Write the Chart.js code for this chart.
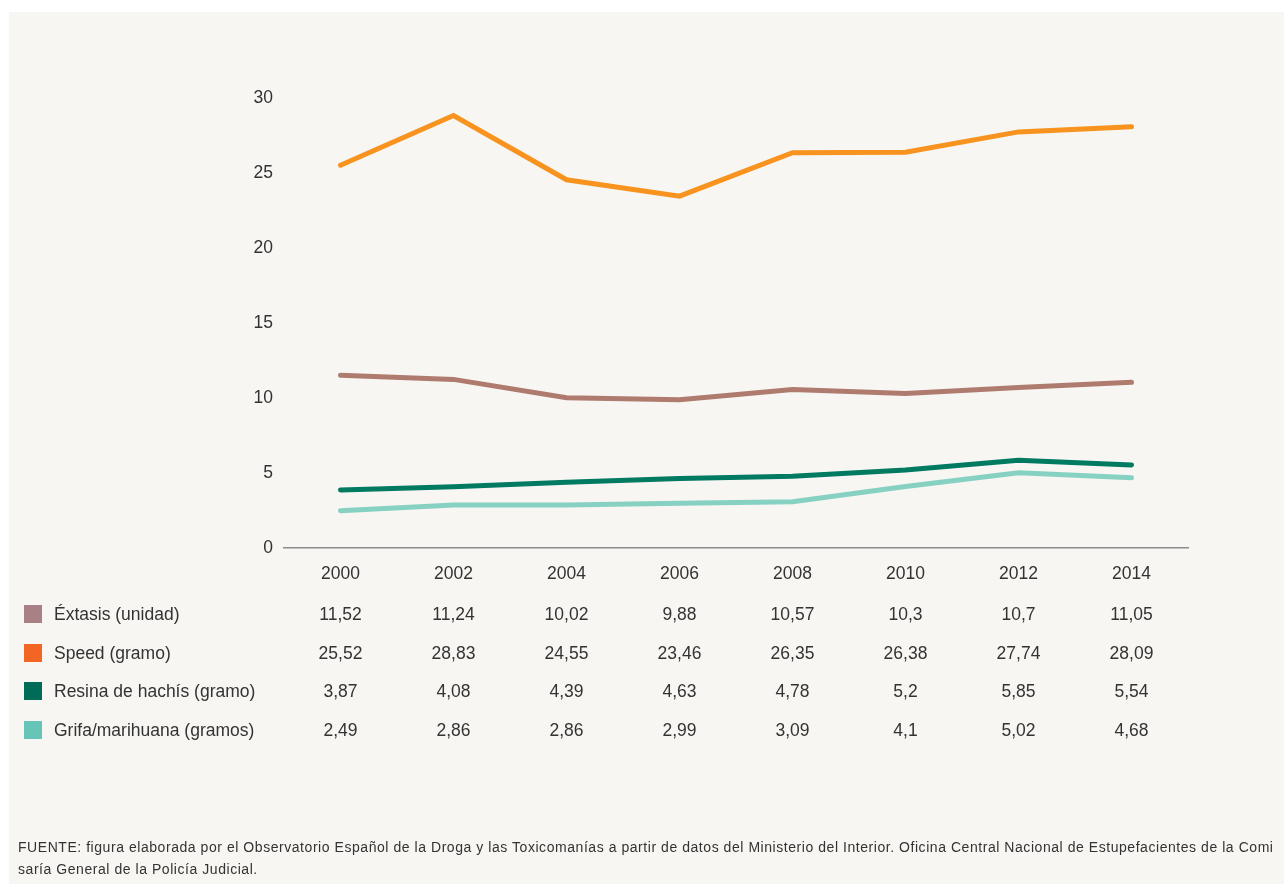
<!DOCTYPE html>
<html>
<head>
<meta charset="utf-8">
<script src="https://cdn.jsdelivr.net/npm/chart.js@4"></script>
<style>
    html, body { margin: 0; padding: 0; background: #ffffff; }
    #wrap { position: relative; width: 1284px; height: 884px; overflow: hidden; }
    #grafica { position: absolute; left: 0; top: 0; }
    #fuente {
        position: absolute; left: 18px; top: 836px; right: 0;
        font-family: "Liberation Sans", Arial, sans-serif; font-size: 14px;
        letter-spacing: 0.55px; line-height: 22px; color: #333; white-space: nowrap;
    }
</style>
</head>
<body>
<div id="wrap">
    <canvas id="grafica" width="1284" height="884"></canvas>
    <div id="fuente">FUENTE: figura elaborada por el Observatorio Español de la Droga y las Toxicomanías a partir de datos del Ministerio del Interior. Oficina Central Nacional de Estupefacientes de la Comi<br>saría General de la Policía Judicial.</div>
</div>
<script>
// Datos
const anios = ['2000', '2002', '2004', '2006', '2008', '2010', '2012', '2014'];
const extasis = [11.52, 11.24, 10.02, 9.88, 10.57, 10.3, 10.7, 11.05];
const speed = [25.52, 28.83, 24.55, 23.46, 26.35, 26.38, 27.74, 28.09];
const resina = [3.87, 4.08, 4.39, 4.63, 4.78, 5.2, 5.85, 5.54];
const grifa = [2.49, 2.86, 2.86, 2.99, 3.09, 4.1, 5.02, 4.68];
const etiquetasY = [0, 5, 10, 15, 20, 25, 30];

const FUENTE = '"Liberation Sans", Arial, sans-serif';

// Fondo del panel
const fondoPlugin = {
    id: 'fondo',
    beforeDraw: (chart) => {
        const ctx = chart.ctx;
        ctx.save();
        ctx.fillStyle = '#f7f6f2';
        ctx.fillRect(9, 12, chart.width - 9, chart.height - 12);
        ctx.restore();
    }
};

// Tabla de valores con leyenda debajo del eje
const tablaPlugin = {
    id: 'tabla',
    afterDraw: (chart) => {
        const ctx = chart.ctx;
        const x = chart.scales.x;
        const filaY = [615, 654, 692, 731];
        ctx.save();
        ctx.font = '17.5px ' + FUENTE;
        ctx.textBaseline = 'middle';
        chart.data.datasets.forEach((ds, i) => {
            const y = filaY[i];
            ctx.fillStyle = ds.swatch;
            ctx.fillRect(24, y - 10, 18, 18);
            ctx.fillStyle = '#333';
            ctx.textAlign = 'left';
            ctx.fillText(ds.label, 54, y);
            ctx.textAlign = 'center';
            ds.data.forEach((v, j) => {
                ctx.fillText(String(v).replace('.', ','), x.getPixelForValue(j), y);
            });
        });
        ctx.restore();
    }
};

document.addEventListener('DOMContentLoaded', function() {
    const ctx = document.getElementById('grafica').getContext('2d');
    const estilo = {
        borderWidth: 5,
        borderCapStyle: 'round',
        pointRadius: 0,
        pointHoverRadius: 0,
        tension: 0,
        fill: false
    };
    new Chart(ctx, {
        type: 'line',
        data: {
            labels: anios,
            datasets: [
                Object.assign({ label: 'Éxtasis (unidad)', data: extasis, borderColor: '#b07b6f', swatch: '#a98085' }, estilo),
                Object.assign({ label: 'Speed (gramo)', data: speed, borderColor: '#f7931e', swatch: '#f26522' }, estilo),
                Object.assign({ label: 'Resina de hachís (gramo)', data: resina, borderColor: '#007a60', swatch: '#006b56' }, estilo),
                Object.assign({ label: 'Grifa/marihuana (gramos)', data: grifa, borderColor: '#86d1c2', swatch: '#67c5b8' }, estilo)
            ]
        },
        options: {
            responsive: false,
            animation: false,
            layout: { padding: { top: 98, right: 96, left: 0, bottom: 0 } },
            plugins: {
                legend: { display: false },
                tooltip: { enabled: false }
            },
            scales: {
                x: {
                    offset: true,
                    grid: { display: false, drawTicks: false },
                    border: { display: true, color: '#8c8c8c', width: 1.5 },
                    ticks: {
                        color: '#333',
                        font: { family: FUENTE, size: 17.5 },
                        padding: 16,
                        maxRotation: 0
                    },
                    afterFit: (s) => { s.height = 336; }
                },
                y: {
                    min: 0,
                    max: 30,
                    grid: { display: false, drawTicks: false },
                    border: { display: false },
                    afterBuildTicks: (s) => { s.ticks = etiquetasY.map(v => ({ value: v })); },
                    ticks: {
                        color: '#333',
                        font: { family: FUENTE, size: 17.5 },
                        padding: 11
                    },
                    afterFit: (s) => { s.width = 284; }
                }
            }
        },
        plugins: [fondoPlugin, tablaPlugin]
    });
});
</script>
</body>
</html>
